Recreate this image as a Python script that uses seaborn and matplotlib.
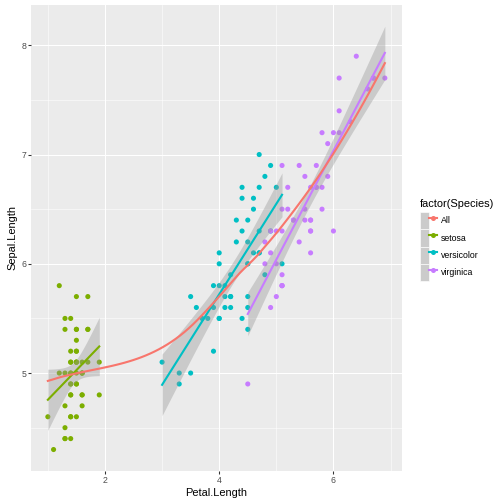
import numpy as np
import pandas as pd
import matplotlib
matplotlib.use("Agg")
import matplotlib.pyplot as plt
import seaborn as sns
from matplotlib.patches import Patch
from matplotlib.lines import Line2D
from matplotlib.legend_handler import HandlerTuple
from matplotlib.ticker import FixedLocator

# ---------------- data (iris) ----------------
setosa_sepal = [5.1,4.9,4.7,4.6,5.0,5.4,4.6,5.0,4.4,4.9,5.4,4.8,4.8,4.3,5.8,5.7,5.4,5.1,5.7,5.1,
                5.4,5.1,4.6,5.1,4.8,5.0,5.0,5.2,5.2,4.7,4.8,5.4,5.2,5.5,4.9,5.0,5.5,4.9,4.4,5.1,
                5.0,4.5,4.4,5.0,5.1,4.8,5.1,4.6,5.3,5.0]
setosa_petal = [1.4,1.4,1.3,1.5,1.4,1.7,1.4,1.5,1.4,1.5,1.5,1.6,1.4,1.1,1.2,1.5,1.3,1.4,1.7,1.5,
                1.7,1.5,1.0,1.7,1.9,1.6,1.6,1.5,1.4,1.6,1.6,1.5,1.5,1.4,1.5,1.2,1.3,1.4,1.3,1.5,
                1.3,1.3,1.3,1.6,1.9,1.4,1.6,1.4,1.5,1.4]
versicolor_sepal = [7.0,6.4,6.9,5.5,6.5,5.7,6.3,4.9,6.6,5.2,5.0,5.9,6.0,6.1,5.6,6.7,5.6,5.8,6.2,5.6,
                    5.9,6.1,6.3,6.1,6.4,6.6,6.8,6.7,6.0,5.7,5.5,5.5,5.8,6.0,5.4,6.0,6.7,6.3,5.6,5.5,
                    5.5,6.1,5.8,5.0,5.6,5.7,5.7,6.2,5.1,5.7]
versicolor_petal = [4.7,4.5,4.9,4.0,4.6,4.5,4.7,3.3,4.6,3.9,3.5,4.2,4.0,4.7,3.6,4.4,4.5,4.1,4.5,3.9,
                    4.8,4.0,4.9,4.7,4.3,4.4,4.8,5.0,4.5,3.5,3.8,3.7,3.9,5.1,4.5,4.5,4.7,4.4,4.1,4.0,
                    4.4,4.6,4.0,3.3,4.2,4.2,4.2,4.3,3.0,4.1]
virginica_sepal = [6.3,5.8,7.1,6.3,6.5,7.6,4.9,7.3,6.7,7.2,6.5,6.4,6.8,5.7,5.8,6.4,6.5,7.7,7.7,6.0,
                   6.9,5.6,7.7,6.3,6.7,7.2,6.2,6.1,6.4,7.2,7.4,7.9,6.4,6.3,6.1,7.7,6.3,6.4,6.0,6.9,
                   6.7,6.9,5.8,6.8,6.7,6.7,6.3,6.5,6.2,5.9]
virginica_petal = [6.0,5.1,5.9,5.6,5.8,6.6,4.5,6.3,5.8,6.1,5.1,5.3,5.5,5.0,5.1,5.3,5.5,6.7,6.9,5.0,
                   5.7,4.9,6.7,4.9,5.7,6.0,4.8,4.9,5.6,5.8,6.1,6.4,5.6,5.1,5.6,6.1,5.6,5.5,4.8,5.4,
                   5.6,5.1,5.1,5.9,5.7,5.2,5.0,5.2,5.4,5.1]

species = ["setosa", "versicolor", "virginica"]
legend_labels = ["All", "setosa", "versicolor", "virginica"]
x_ticks = [2, 4, 6]
y_ticks = [5, 6, 7, 8]

# ---------------- styles ----------------
colors = {"All": "#F8766D", "setosa": "#7CAE00", "versicolor": "#00BFC4", "virginica": "#C77CFF"}
FONT = "Liberation Sans"

df = pd.DataFrame({
    "Petal.Length": setosa_petal + versicolor_petal + virginica_petal,
    "Sepal.Length": setosa_sepal + versicolor_sepal + virginica_sepal,
    "Species": ["setosa"] * 50 + ["versicolor"] * 50 + ["virginica"] * 50,
})


def t975(nu):
    z = 1.959963984540054
    return (z + (z**3 + z) / (4 * nu) + (5 * z**5 + 16 * z**3 + 3 * z) / (96 * nu**2)
            + (3 * z**7 + 19 * z**5 + 17 * z**3 - 15 * z) / (384 * nu**3))


def lm_fit(x, y, n_out=80):
    x = np.asarray(x, float); y = np.asarray(y, float)
    n = len(x)
    b, a = np.polyfit(x, y, 1)
    res = y - (a + b * x)
    s = np.sqrt(np.sum(res**2) / (n - 2))
    xs = np.linspace(x.min(), x.max(), n_out)
    fit = a + b * xs
    se = s * np.sqrt(1 / n + (xs - x.mean())**2 / np.sum((x - x.mean())**2))
    t = t975(n - 2)
    return xs, fit, fit - t * se, fit + t * se


def local_rows(x, x0, q):
    """operator rows (value, slope) of a local quadratic tricube fit at x0"""
    d = np.abs(x - x0)
    h = np.sort(d)[q - 1]
    u = np.clip(d / h, 0, 1)
    w = (1 - u**3)**3
    X = np.column_stack([np.ones_like(x), x - x0, (x - x0)**2])
    XtW = X.T * w
    B = np.linalg.solve(XtW @ X, XtW)
    return B[0], B[1]


def kd_vertices(x, fc):
    xs = np.sort(x)
    n = len(xs)
    lo_v, hi_v = xs[0], xs[-1]
    mu = 0.005 * (hi_v - lo_v)
    verts = [lo_v - mu, hi_v + mu]
    cells = [(0, n - 1, lo_v - mu, hi_v + mu)]
    while cells:
        l, u, vl, vu = cells.pop()
        if u - l + 1 <= fc:
            continue
        m = (l + u) // 2
        off = 0
        while l <= m + off < u:
            if xs[m + off] != xs[m + off + 1]:
                m = m + off
                break
            off = -off
            if off >= 0:
                off += 1
        xi = xs[m]
        if xi == vl or xi == vu:
            continue
        verts.append(xi)
        cells.append((l, m, vl, xi))
        cells.append((m + 1, u, xi, vu))
    return np.array(sorted(set(verts)))


def loess_curve(x, y, span=0.75, cell=0.2, n_out=80):
    x = np.asarray(x, float); y = np.asarray(y, float)
    n = len(x)
    q = int(np.floor(n * span + 1e-5))
    fc = int(np.floor(n * span * cell))
    V = kd_vertices(x, fc)
    vals, slopes = [], []
    for v in V:
        a, b = local_rows(x, v, q)
        vals.append(a @ y); slopes.append(b @ y)
    xs = np.linspace(x.min(), x.max(), n_out)
    fit = []
    for p in xs:
        j = np.searchsorted(V, p, side="right") - 1
        j = min(max(j, 0), len(V) - 2)
        h = V[j + 1] - V[j]
        t = (p - V[j]) / h
        fit.append((2 * t**3 - 3 * t**2 + 1) * vals[j] + (t**3 - 2 * t**2 + t) * h * slopes[j]
                   + (-2 * t**3 + 3 * t**2) * vals[j + 1] + (t**3 - t**2) * h * slopes[j + 1])
    return xs, np.array(fit)


fits = {}
for sp in species:
    sub = df[df["Species"] == sp]
    fits[sp] = lm_fit(sub["Petal.Length"], sub["Sepal.Length"])
all_x, all_fit = loess_curve(df["Petal.Length"], df["Sepal.Length"])

# ---------------- figure ----------------
fig = plt.figure(figsize=(7, 7), dpi=72)
W = H = 504
left, right, top, bottom = 31, 401.7, 5, 470.7
ax = fig.add_axes([left / W, 1 - bottom / H, (right - left) / W, (bottom - top) / H])
ax.set_facecolor("#EBEBEB")
for s_ in ax.spines.values():
    s_.set_visible(False)

sns.scatterplot(data=df, x="Petal.Length", y="Sepal.Length", hue="Species",
                palette=[colors[s] for s in species], hue_order=species,
                s=26, linewidth=0, legend=False, ax=ax, zorder=3)

z = 4
for name in species:
    xs, fit, lo, hi = fits[name]
    ax.fill_between(xs, lo, hi, color="#999999", alpha=0.4, linewidth=0, zorder=z)
    sns.lineplot(x=xs, y=fit, color=colors[name], linewidth=2.1, ax=ax, zorder=z + 1,
                 estimator=None, sort=False)
    z += 2
sns.lineplot(x=all_x, y=all_fit, color=colors["All"], linewidth=2.1, ax=ax, zorder=z + 1,
             estimator=None, sort=False)

# limits (ggplot-like 5% expansion over data incl. ribbons)
xmin, xmax = df["Petal.Length"].min(), df["Petal.Length"].max()
ylo = min(df["Sepal.Length"].min(), all_fit.min(), *[fits[k][2].min() for k in fits])
yhi = max(df["Sepal.Length"].max(), all_fit.max(), *[fits[k][3].max() for k in fits])
ax.set_xlim(xmin - 0.05 * (xmax - xmin), xmax + 0.05 * (xmax - xmin))
ax.set_ylim(ylo - 0.05 * (yhi - ylo), yhi + 0.05 * (yhi - ylo))

ax.xaxis.set_major_locator(FixedLocator(x_ticks))
ax.yaxis.set_major_locator(FixedLocator(y_ticks))
ax.xaxis.set_minor_locator(FixedLocator([1, 3, 5, 7]))
ax.yaxis.set_minor_locator(FixedLocator([4.5, 5.5, 6.5, 7.5]))
ax.grid(which="major", color="white", linewidth=1.07)
ax.grid(which="minor", color="white", linewidth=0.53)
ax.set_axisbelow(True)
ax.tick_params(which="major", length=2.75, width=1.07, color="#333333", pad=2.2,
               labelsize=8.8, labelcolor="#4D4D4D")
ax.tick_params(which="minor", length=0)
for lab in ax.get_xticklabels() + ax.get_yticklabels():
    lab.set_fontfamily(FONT)
ax.set_xlabel("Petal.Length", fontsize=11, fontfamily=FONT, color="black", labelpad=3)
ax.set_ylabel("Sepal.Length", fontsize=11, fontfamily=FONT, color="black", labelpad=4)

# ---------------- legend ----------------
handles = []
for name in legend_labels:
    bg = Patch(facecolor="#CBCBCB", edgecolor="white", linewidth=0.6)
    ln = Line2D([], [], color=colors[name], linewidth=2.1, marker="o", markersize=5,
                markeredgewidth=0)
    handles.append((bg, ln))
leg = fig.legend(handles, legend_labels, handler_map={tuple: HandlerTuple(ndivide=None, pad=0)},
                 loc="center left", bbox_to_anchor=(413 / W, 1 - ((top + bottom) / 2 + 2.5) / H),
                 frameon=False, title="factor(Species)", alignment="left",
                 prop={"family": FONT, "size": 8.8},
                 title_fontproperties={"family": FONT, "size": 11},
                 handlelength=1.96, handleheight=2.65, labelspacing=0.0,
                 handletextpad=0.45, borderpad=0.3, numpoints=1)
try:
    leg._legend_box.sep = 2.5
except Exception:
    pass

fig.savefig("out.png", dpi=72)
